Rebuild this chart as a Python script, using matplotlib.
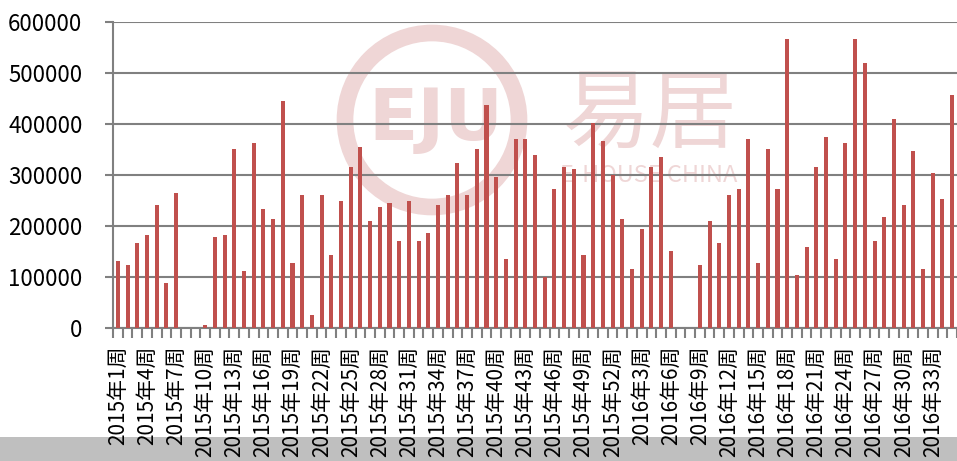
import matplotlib.pyplot as plt
from matplotlib.patches import Circle, Rectangle

# weekly values
weeks_2015 = list(range(1, 53))
values_2015 = [131000, 123000, 166000, 182000, 241000, 88000, 264000, 0, 0, 5000,
               178000, 182000, 351000, 111000, 363000, 233000, 213000, 445000, 127000, 260000,
               25000, 260000, 143000, 249000, 315000, 355000, 209000, 237000, 245000, 170000,
               249000, 170000, 186000, 241000, 260000, 323000, 260000, 351000, 437000, 296000,
               135000, 370000, 370000, 339000, 99000, 272000, 315000, 312000, 143000, 402000,
               366000, 300000]
weeks_2016 = list(range(1, 36))
values_2016 = [213000, 115000, 194000, 315000, 335000, 151000, 0, 0, 123000, 209000,
               166000, 260000, 272000, 370000, 127000, 351000, 272000, 567000, 103000, 158000,
               315000, 374000, 135000, 363000, 567000, 520000, 170000, 217000, 410000, 241000,
               347000, 115000, 304000, 253000, 457000]

labels = [f"2015年{w}周" for w in weeks_2015] + [f"2016年{w}周" for w in weeks_2016]
values = values_2015 + values_2016
yticks = [0, 100000, 200000, 300000, 400000, 500000, 600000]

plt.rcParams['font.family'] = ['Noto Sans CJK SC', 'DejaVu Sans']

fig = plt.figure(figsize=(9.57, 4.61), dpi=100)
fig.patch.set_facecolor('white')
# grey strip along the bottom edge, behind the tick labels
fig.patches.append(Rectangle((0, 0), 1, 24 / 461, transform=fig.transFigure,
                             facecolor='#bfbfbf', edgecolor='none', zorder=-2))

# faint watermark behind everything
wm = '#efd6d6'
fig.patches.append(Circle((432, 461 - 120), 87, transform=None, fill=False,
                          edgecolor=wm, linewidth=12, zorder=-1))
fig.text(436 / 957, 1 - 121 / 461, "EJU", color=wm, fontsize=52, fontweight='bold',
         family='DejaVu Sans', ha='center', va='center', zorder=-1)
fig.text(650 / 957, 1 - 116 / 461, "易居", color=wm, fontsize=63,
         ha='center', va='center', zorder=-1)
fig.text(649 / 957, 1 - 176 / 461, "E-HOUSE CHINA", color=wm, fontsize=17,
         ha='center', va='center', zorder=-1)

ax = fig.add_axes([113 / 957, 1 - 327.7 / 461, 1 - 113 / 957, (327.7 - 22) / 461])
ax.set_facecolor('none')

x = list(range(len(values)))
ax.bar(x, values, width=0.42, color='#c0504d', zorder=3)

ax.set_ylim(0, 600000)
ax.set_xlim(-0.48, 86.1)
ax.set_yticks(yticks)
ax.set_yticklabels([str(v) for v in yticks], fontsize=16)
ax.yaxis.grid(True, color='#808080', linewidth=1.5, zorder=1)
ax.set_axisbelow(True)

# boundary tick marks, labels every 3rd week
ax.set_xticks([i + 0.5 for i in range(-1, len(values))])
ax.set_xticklabels([])
ax.set_xticks(x[::3], labels[::3], minor=True, rotation=90, fontsize=15)
ax.tick_params(axis='x', which='major', length=7, width=1.5, color='#808080', direction='out')
ax.tick_params(axis='x', which='minor', length=0, pad=13)
ax.tick_params(axis='y', length=6, width=1.5, color='#808080', pad=16)

for s in ['top', 'right']:
    ax.spines[s].set_visible(False)
ax.spines['left'].set_color('#808080')
ax.spines['left'].set_linewidth(1.5)
ax.spines['bottom'].set_color('#808080')
ax.spines['bottom'].set_linewidth(1.5)

fig.savefig('out.png', dpi=100)
